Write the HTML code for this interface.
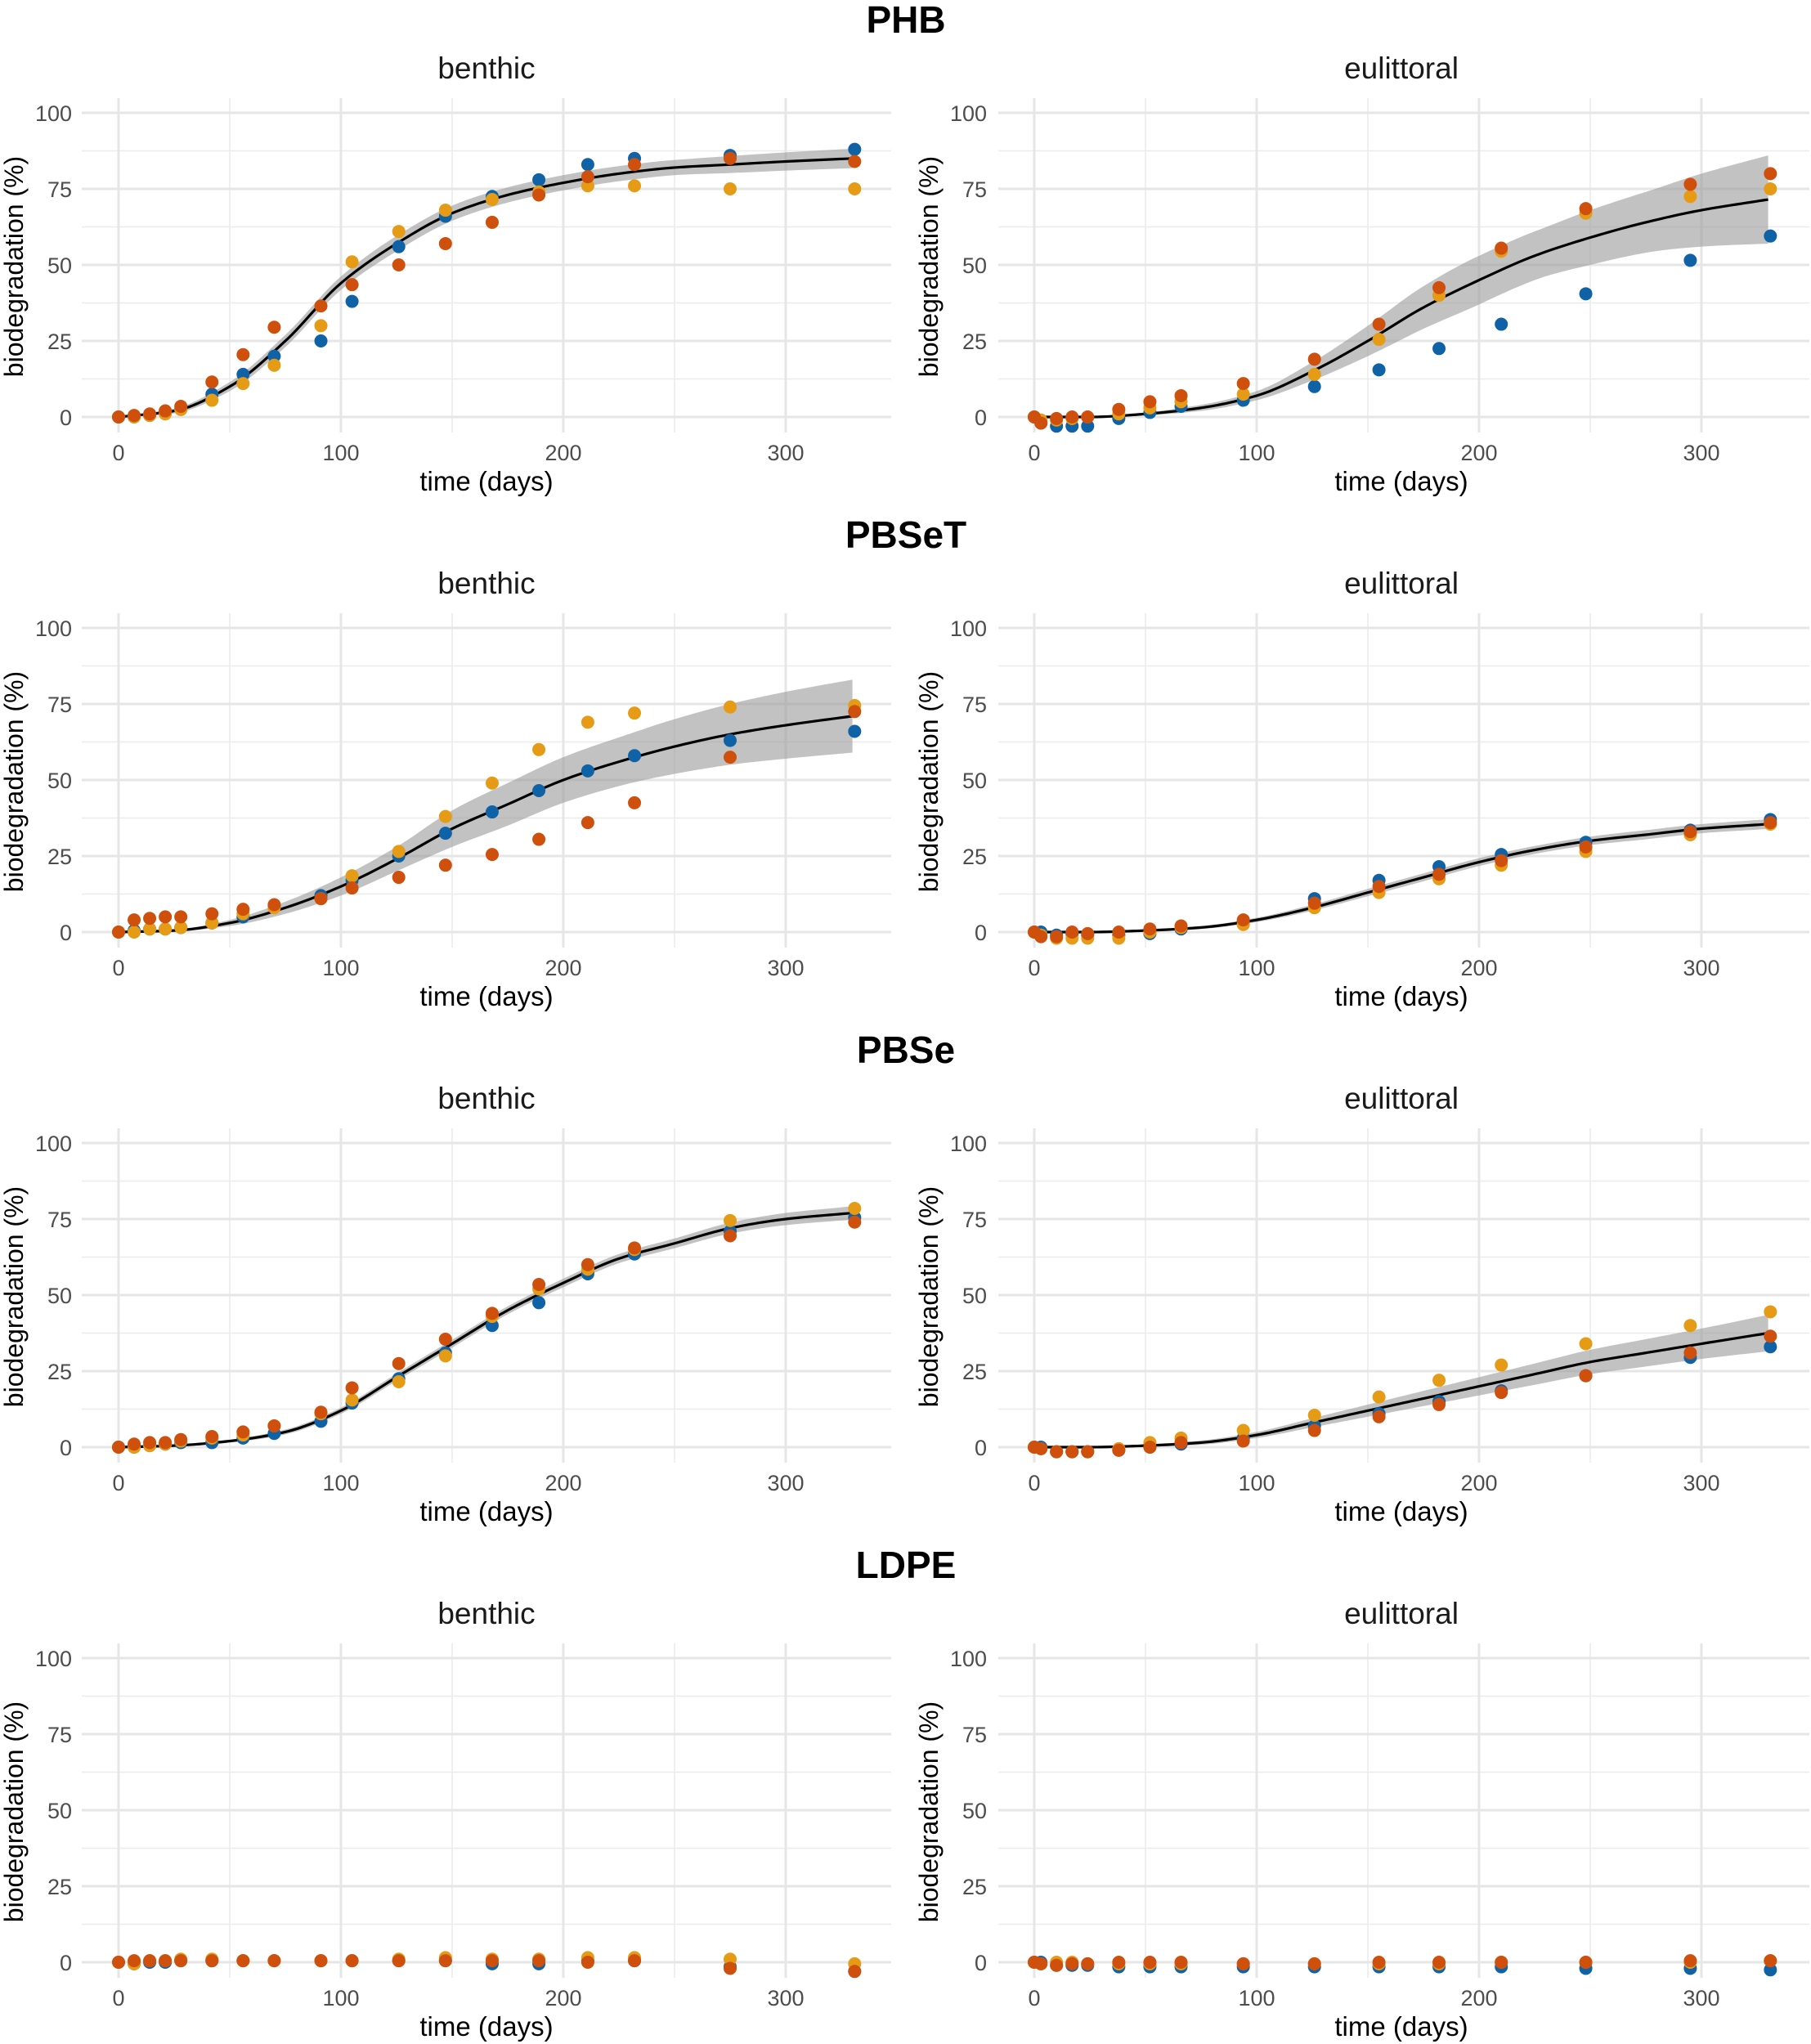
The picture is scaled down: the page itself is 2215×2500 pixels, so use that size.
<!DOCTYPE html>
<html><head><meta charset="utf-8">
<style>
html,body{margin:0;padding:0;background:#fff;}
svg{display:block;font-family:"Liberation Sans",sans-serif;}
</style></head>
<body>
<svg id="chart" width="2215" height="2500" viewBox="0 0 2215 2500" xmlns="http://www.w3.org/2000/svg"></svg>
<script>
const polymers = ["PHB","PBSeT","PBSe","LDPE"];
const habitats = ["benthic","eulittoral"];
const timesBenthic = [0,7,14,21,28,42,56,70,91,105,126,147,168,189,211,232,275,331];
const timesEulittoral = [0,3,10,17,24,38,52,66,94,126,155,182,210,248,295,331];
const xTicks = [0,100,200,300];
const yTicks = [0,25,50,75,100];
const fitTimes = [0,25,50,75,100,125,150,175,200,225,250,275,300,330];

const blueVals = [
 [[0,0,0.5,1.5,2.5,7.5,14,20,25,38,56,66,72.5,78,83,85,86,88],
  [0,-2,-3,-3,-3,-0.5,1.5,3.5,5.5,10,15.5,22.5,30.5,40.5,51.5,59.5]],
 [[0,0.5,1,1,1.5,3,5,8.5,12,17,25,32.5,39.5,46.5,53,58,63,66],
  [0,0,-1,-0.5,-1,-1,-0.5,1,3.5,11,17,21.5,25.5,29.5,33.5,37]],
 [[0,0,0.5,1,1.5,1.5,3,4.5,8.5,14.5,22.5,31,40,47.5,57,63.5,71,75.5],
  [0,0,-1.5,-1.5,-1.5,-1,0,1,3,7,11,15,18.5,23.5,29.5,33]],
 [[0,-0.5,0,0,0.5,0.5,0.5,0.5,0.5,0.5,0.5,0.5,-0.5,-0.5,0.5,0.5,-1.5,-3],
  [0,0,-1,-1,-1,-1.5,-1.5,-1.5,-1.5,-1.5,-1.5,-1.5,-1.5,-2,-2,-2.5]]
];
const orangeVals = [
 [[0,0,0.5,1,2.5,5.5,11,17,30,51,61,68,71.5,74,76,76,75,75],
  [0,-1,-1,-0.5,0,1,3,5,7.5,14,25.5,40,54.5,67,72.5,75]],
 [[0,0,1,1,1.5,3,6,8,11,18.5,26.5,38,49,60,69,72,74,74.5],
  [0,-1,-2,-2,-2,-2,0,1.5,2.5,8,13,17.5,22,26.5,32,35.5]],
 [[0,0,0.5,1,2,3,4,7,11,15.5,21.5,30,43,52,58.5,65,74.5,78.5],
  [0,-0.5,-1.5,-1.5,-1.5,-0.5,1.5,3,5.5,10.5,16.5,22,27,34,40,44.5]],
 [[0,-0.5,0.5,0.5,1,1,0.5,0.5,0.5,0.5,1,1.5,1,1,1.5,1.5,1,-0.5],
  [0,-0.5,0,0,-0.5,-0.5,-0.5,-0.5,-0.5,-0.5,-0.5,-0.5,0,0,0,0.5]]
];
const redVals = [
 [[0,0.5,1,2,3.5,11.5,20.5,29.5,36.5,43.5,50,57,64,73,79,83,85,84],
  [0,-2,-0.5,0,0,2.5,5,7,11,19,30.5,42.5,55.5,68.5,76.5,80]],
 [[0,4,4.5,5,5,6,7.5,9,11,14.5,18,22,25.5,30.5,36,42.5,57.5,72.5],
  [0,-1.5,-1.5,0,-0.5,0,1,2,4,9.5,15,19,23.5,28,33,36]],
 [[0,1,1.5,1.5,2.5,3.5,5,7,11.5,19.5,27.5,35.5,44,53.5,60,65.5,69.5,74],
  [0,-0.5,-1.5,-1.5,-1.5,-1,0,1.5,2,5.5,10,14,18,23.5,31,36.5]],
 [[0,0.5,0.5,0.5,0.5,0.5,0.5,0.5,0.5,0.5,0.5,0.5,0.5,0.5,0,0.5,-2,-3],
  [0,-0.5,-1,-0.5,-0.5,0,0,0,-0.5,-0.5,0,0,0,0,0.5,0.5]]
];
const fitVals = [
 [[0,2,10,25,44,57,67,73,77,80,82,83,84,85],
  [0,0,1,3,7,15,25,36,45,53,59,64,68,71.5]],
 [[0,0.5,3,8,15,24,34,42,50,56,61,65,68,71],
  [0,0,0.5,1.5,4,8,13,18,23,27,30,32,34,35.5]],
 [[0,0.5,2,5,12,23,34,45,54,62,67,72,75,77],
  [0,0,0.5,1.5,4,8,12,16,20,24,28,31,34,37.5]],
 [null,null]
];
const bandHalf = [
 [[0,0.8,1.5,2,2.2,2.5,2.5,2.5,2.5,2.5,2.5,2.8,3,3.2],
  [0,0.2,0.5,1,1.5,3,5,7,8,8,9,10,12,14.5]],
 [[0,0.3,1,2,3,4,6,7,7.5,8,9,10,11,12],
  [0,0.2,0.3,0.5,0.7,1,1.2,1.3,1.3,1.3,1.4,1.5,1.5,1.6]],
 [[0,0.3,0.5,0.8,1,1.2,1.3,1.3,1.4,1.5,1.6,1.8,2,2.2],
  [0,0.2,0.4,0.7,1,1.5,2,2.5,3,3.5,4,4.5,5,6]],
 [null,null]
];
const colors = {blue:"#0f62a6", orange:"#e69b16", red:"#cf4f0c"};

const svg = document.getElementById('chart');
const NS = "http://www.w3.org/2000/svg";
function mk(tag, attrs, parent){
  const e = document.createElementNS(NS, tag);
  for (const k in attrs) e.setAttribute(k, attrs[k]);
  (parent||svg).appendChild(e);
  return e;
}
function txt(s, attrs, parent){ const e = mk('text', attrs, parent); e.textContent = s; return e; }

const panelX0 = [145, 1265];
const gridL = [100, 1221];
const gridR = [1090, 2213];
const pxPerDay = 2.72;
const pxPerPct = 3.72;
const rowStep = 630;

// monotone cubic (Fritsch-Carlson) interpolation
function interp(ts, vs, t){
  const n = ts.length;
  const d = [], m = [];
  for (let i=0;i<n-1;i++) d.push((vs[i+1]-vs[i])/(ts[i+1]-ts[i]));
  m[0]=d[0]; m[n-1]=d[n-2];
  for (let i=1;i<n-1;i++){
    if (d[i-1]*d[i] <= 0) m[i]=0; else m[i]=2/(1/d[i-1]+1/d[i]);
  }
  let i = 0;
  while (i < n-2 && t > ts[i+1]) i++;
  const h = ts[i+1]-ts[i], u=(t-ts[i])/h;
  const h00=2*u*u*u-3*u*u+1, h10=u*u*u-2*u*u+u, h01=-2*u*u*u+3*u*u, h11=u*u*u-u*u;
  return h00*vs[i]+h10*h*m[i]+h01*vs[i+1]+h11*h*m[i+1];
}

polymers.forEach((poly, r) => {
  const oy = r*rowStep;
  const t = txt(poly, {x:1108, y:40+oy, 'text-anchor':'middle', 'font-size':46, 'font-weight':'bold', fill:'#000'});
  
  
  habitats.forEach((hab, c) => {
    const g = mk('g', {});
    
    
    const X = d => panelX0[c] + d*pxPerDay;
    const Y = v => 510 + oy - v*pxPerPct;
    const top = 120+oy, bot = 529+oy;
    const st = txt(hab, {x:(c===0?595:1714), y:96+oy, 'text-anchor':'middle', 'font-size':37, fill:'#1a1a1a'}, g);
    
    
    [50,150,250].forEach(d => mk('line',{x1:X(d),x2:X(d),y1:top,y2:bot,stroke:'#ebebeb','stroke-width':1.6},g));
    [12.5,37.5,62.5,87.5].forEach(v => mk('line',{x1:gridL[c],x2:gridR[c],y1:Y(v),y2:Y(v),stroke:'#ebebeb','stroke-width':1.6},g));
    xTicks.forEach(d => {
      mk('line',{x1:X(d),x2:X(d),y1:top,y2:bot,stroke:'#e6e6e6','stroke-width':3},g);
      const l = txt(String(d), {x:X(d), y:563+oy, 'text-anchor':'middle', 'font-size':27, fill:'#4d4d4d'}, g);
      
      
    });
    yTicks.forEach(v => {
      mk('line',{x1:gridL[c],x2:gridR[c],y1:Y(v),y2:Y(v),stroke:'#e6e6e6','stroke-width':3},g);
      const l = txt(String(v), {x:(c===0?88:1207), y:Y(v)+10, 'text-anchor':'end', 'font-size':27, fill:'#4d4d4d'}, g);
      
      
    });
    const xt = txt('time (days)', {x:(c===0?595:1714), y:600+oy, 'text-anchor':'middle', 'font-size':33, fill:'#000'}, g);
    
    
    const yx = c===0?28:1147, yy = 326+oy;
    const yt = txt('biodegradation (%)', {x:yx, y:yy, 'text-anchor':'middle', 'font-size':32, fill:'#000', transform:`rotate(-90 ${yx} ${yy})`}, g);
    
    

    const fv = fitVals[r][c], bh = bandHalf[r][c];
    if (fv) {
      const up=[], lo=[], mid=[];
      for (let d=0; d<=330; d+=2){
        const m = interp(fitTimes, fv, d), h = Math.max(0, interp(fitTimes, bh, d));
        mid.push(X(d)+','+Y(m)); up.push(X(d)+','+Y(m+h)); lo.push(X(d)+','+Y(m-h));
      }
      const band = mk('polygon',{points: up.concat(lo.reverse()).join(' '), fill:'#999', 'fill-opacity':0.6}, g);
      
      
      const line = mk('polyline',{points: mid.join(' '), fill:'none', stroke:'#000', 'stroke-width':3.2}, g);
      
      
    }
    const times = c===0 ? timesBenthic : timesEulittoral;
    [['blue',blueVals],['orange',orangeVals],['red',redVals]].forEach(([name, arr]) => {
      arr[r][c].forEach((v, i) => {
        const p = mk('circle',{cx:X(times[i]), cy:Y(v), r:8, fill:colors[name]}, g);
        
        
      });
    });
  });
});
</script>
</body></html>
